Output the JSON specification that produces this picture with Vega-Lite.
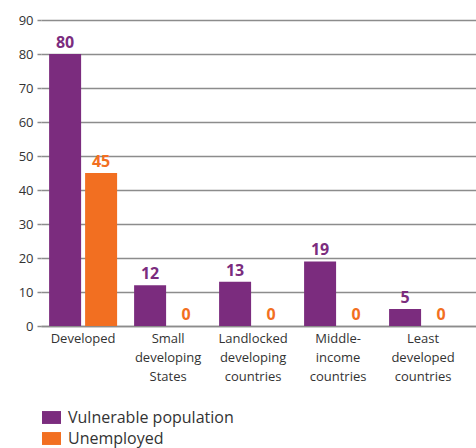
{
  "$schema": "https://vega.github.io/schema/vega-lite/v6.json",
  "width": 435,
  "height": 306,
  "autosize": {"type": "none"},
  "padding": {"left": 41, "top": 20, "right": 0, "bottom": 122},
  "background": "white",
  "config": {
    "view": {"stroke": null},
    "font": "Open Sans"
  },
  "data": {
    "values": [
      {"category": "Developed", "series": "Vulnerable population", "value": 80},
      {"category": "Developed", "series": "Unemployed", "value": 45},
      {"category": "Small developing States", "series": "Vulnerable population", "value": 12},
      {"category": "Small developing States", "series": "Unemployed", "value": 0},
      {"category": "Landlocked developing countries", "series": "Vulnerable population", "value": 13},
      {"category": "Landlocked developing countries", "series": "Unemployed", "value": 0},
      {"category": "Middle-income countries", "series": "Vulnerable population", "value": 19},
      {"category": "Middle-income countries", "series": "Unemployed", "value": 0},
      {"category": "Least developed countries", "series": "Vulnerable population", "value": 5},
      {"category": "Least developed countries", "series": "Unemployed", "value": 0}
    ]
  },
  "encoding": {
    "x": {
      "field": "category",
      "type": "nominal",
      "sort": ["Developed", "Small developing States", "Landlocked developing countries", "Middle-income countries", "Least developed countries"],
      "scale": {"paddingInner": 0.2, "paddingOuter": 0.159, "align": 0.3},
      "axis": {
        "title": null,
        "labelAngle": 0,
        "labelExpr": "split(replace(datum.label, '-', '- '), ' ')",
        "labelFontSize": 13,
        "labelColor": "#333333",
        "labelLineHeight": 19,
        "labelPadding": 6,
        "ticks": false,
        "domainColor": "#8c8c8c",
        "domainWidth": 1.5
      }
    },
    "xOffset": {
      "field": "series",
      "type": "nominal",
      "sort": ["Vulnerable population", "Unemployed"],
      "scale": {"paddingInner": 0.111, "paddingOuter": 0}
    },
    "y": {
      "field": "value",
      "type": "quantitative",
      "scale": {"domain": [0, 90], "nice": false},
      "axis": {
        "title": null,
        "values": [0, 10, 20, 30, 40, 50, 60, 70, 80, 90],
        "labelFontSize": 13,
        "labelColor": "#333333",
        "labelPadding": 4,
        "tickSize": 4,
        "tickColor": "#8c8c8c",
        "tickWidth": 1.5,
        "gridColor": "#8c8c8c",
        "gridWidth": 1.5,
        "domain": false
      }
    },
    "color": {
      "field": "series",
      "type": "nominal",
      "sort": ["Vulnerable population", "Unemployed"],
      "scale": {"domain": ["Vulnerable population", "Unemployed"], "range": ["#7b2c7e", "#f26f21"]},
      "legend": {
        "title": null,
        "orient": "none",
        "legendX": 1,
        "legendY": 388,
        "symbolType": "M-1,-0.68H1V0.68H-1Z",
        "symbolSize": 361,
        "symbolStrokeWidth": 0,
        "symbolOpacity": 1,
        "labelFontSize": 16,
        "labelLimit": 400,
        "labelColor": "#333333",
        "labelOffset": 7,
        "rowPadding": 3
      }
    }
  },
  "layer": [
    {"mark": {"type": "bar", "opacity": 1}},
    {
      "mark": {"type": "text", "baseline": "bottom", "dy": -3, "fontSize": 16, "fontWeight": "bold"},
      "encoding": {"text": {"field": "value", "type": "quantitative"}}
    }
  ]
}
